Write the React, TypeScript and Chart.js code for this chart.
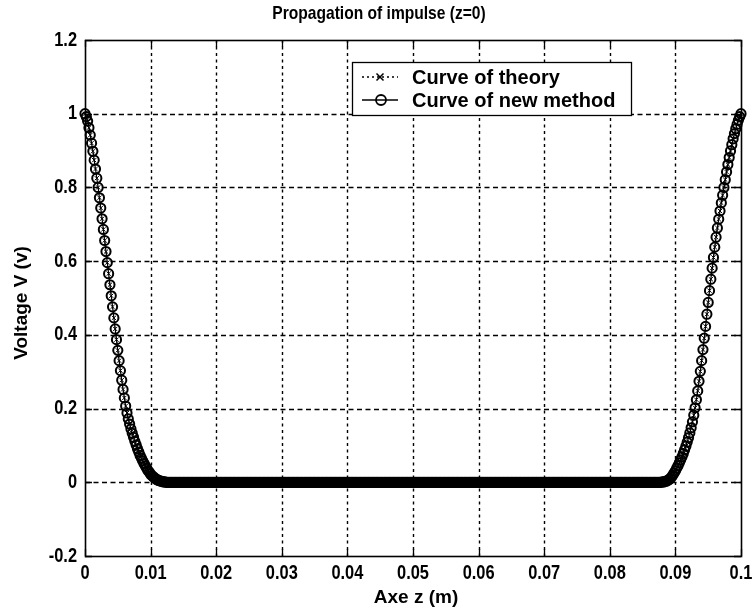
import { useEffect, useRef } from "react";
import { Chart, registerables } from "chart.js";

Chart.register(...registerables);

// Sampling step of the z grid (m)
const Z_STEP = 0.0002;

// Leading front of the pulse, z = 0 ... 0.0122 m
const leftFront = [
  1.000, 0.992, 0.980, 0.962, 0.942, 0.920, 0.898, 0.874, 0.850, 0.825,
  0.800, 0.772, 0.744, 0.715, 0.686, 0.656, 0.626, 0.596, 0.566, 0.536,
  0.506, 0.476, 0.446, 0.416, 0.387, 0.358, 0.330, 0.303, 0.277, 0.252,
  0.229, 0.207, 0.188, 0.172, 0.158, 0.145, 0.133, 0.122, 0.111, 0.101,
  0.091, 0.082, 0.073, 0.065, 0.058, 0.051, 0.044, 0.038, 0.032, 0.027,
  0.022, 0.018, 0.015, 0.012, 0.009, 0.007, 0.005, 0.004, 0.003, 0.002,
  0.001, 0.001,
];

// Quiet region between the two fronts, z = 0.0124 ... 0.0876 m
const plateau = [
  0, 0, 0, 0, 0, 0, 0, 0, 0, 0, 0, 0, 0, 0, 0, 0, 0, 0, 0, 0, 0, 0, 0, 0, 0, 0, 0, 0, 0,
  0, 0, 0, 0, 0, 0, 0, 0, 0, 0, 0, 0, 0, 0, 0, 0, 0, 0, 0, 0, 0, 0, 0, 0, 0, 0, 0, 0, 0,
  0, 0, 0, 0, 0, 0, 0, 0, 0, 0, 0, 0, 0, 0, 0, 0, 0, 0, 0, 0, 0, 0, 0, 0, 0, 0, 0, 0, 0,
  0, 0, 0, 0, 0, 0, 0, 0, 0, 0, 0, 0, 0, 0, 0, 0, 0, 0, 0, 0, 0, 0, 0, 0, 0, 0, 0, 0, 0,
  0, 0, 0, 0, 0, 0, 0, 0, 0, 0, 0, 0, 0, 0, 0, 0, 0, 0, 0, 0, 0, 0, 0, 0, 0, 0, 0, 0, 0,
  0, 0, 0, 0, 0, 0, 0, 0, 0, 0, 0, 0, 0, 0, 0, 0, 0, 0, 0, 0, 0, 0, 0, 0, 0, 0, 0, 0, 0,
  0, 0, 0, 0, 0, 0, 0, 0, 0, 0, 0, 0, 0, 0, 0, 0, 0, 0, 0, 0, 0, 0, 0, 0, 0, 0, 0, 0, 0,
  0, 0, 0, 0, 0, 0, 0, 0, 0, 0, 0, 0, 0, 0, 0, 0, 0, 0, 0, 0, 0, 0, 0, 0, 0, 0, 0, 0, 0,
  0, 0, 0, 0, 0, 0, 0, 0, 0, 0, 0, 0, 0, 0, 0, 0, 0, 0, 0, 0, 0, 0, 0, 0, 0, 0, 0, 0, 0,
  0, 0, 0, 0, 0, 0, 0, 0, 0, 0, 0, 0, 0, 0, 0, 0, 0, 0, 0, 0, 0, 0, 0, 0, 0, 0, 0, 0, 0,
  0, 0, 0, 0, 0, 0, 0, 0, 0, 0, 0, 0, 0, 0, 0, 0, 0, 0, 0, 0, 0, 0, 0, 0, 0, 0, 0, 0, 0,
  0, 0, 0, 0, 0, 0, 0, 0, 0, 0, 0, 0, 0, 0, 0, 0, 0, 0, 0, 0, 0, 0, 0, 0, 0, 0, 0, 0, 0,
  0, 0, 0, 0, 0, 0, 0, 0, 0, 0, 0, 0, 0, 0, 0, 0, 0, 0, 0, 0, 0, 0, 0, 0, 0, 0, 0, 0, 0,
];

// Trailing front of the pulse, z = 0.0878 ... 0.1 m
const rightFront = [
  0.000, 0.001, 0.001, 0.002, 0.003, 0.005, 0.007, 0.010, 0.014, 0.019,
  0.025, 0.031, 0.038, 0.045, 0.053, 0.061, 0.069, 0.078, 0.088, 0.098,
  0.109, 0.121, 0.134, 0.148, 0.164, 0.182, 0.202, 0.224, 0.248, 0.274,
  0.301, 0.330, 0.360, 0.391, 0.423, 0.456, 0.488, 0.520, 0.551, 0.581,
  0.610, 0.638, 0.665, 0.690, 0.714, 0.736, 0.758, 0.779, 0.800, 0.821,
  0.842, 0.862, 0.881, 0.899, 0.916, 0.932, 0.946, 0.959, 0.971, 0.982,
  0.992, 1.000,
];

const theoryV = [...leftFront, ...plateau, ...rightFront];
const newMethodV = [...leftFront, ...plateau, ...rightFront];
const zValues = newMethodV.map((_, i) => i * Z_STEP);

const xTicks = [0, 0.01, 0.02, 0.03, 0.04, 0.05, 0.06, 0.07, 0.08, 0.09, 0.1];
const xTickLabels = ["0", "0.01", "0.02", "0.03", "0.04", "0.05", "0.06", "0.07", "0.08", "0.09", "0.1"];
const yTicks = [-0.2, 0, 0.2, 0.4, 0.6, 0.8, 1, 1.2];
const yTickLabels = ["-0.2", "0", "0.2", "0.4", "0.6", "0.8", "1", "1.2"];

const seriesNames = ["Curve of theory", "Curve of new method"];
const chartTitle = "Propagation of impulse (z=0)";
const xTitle = "Axe z (m)";
const yTitle = "Voltage V (v)";

const SANS = '"Liberation Sans", Arial, sans-serif';
// horizontal squeeze giving the condensed Helvetica look of the labels
const SQUEEZE = 0.82;

function drawCondensed(
  ctx: CanvasRenderingContext2D,
  text: string,
  x: number,
  y: number,
  size: number,
  align: CanvasTextAlign,
) {
  ctx.save();
  ctx.font = `bold ${size}px ${SANS}`;
  ctx.textAlign = align;
  ctx.textBaseline = "middle";
  ctx.translate(x, y);
  ctx.scale(SQUEEZE, 1);
  ctx.fillText(text, 0, 0);
  ctx.restore();
}

function drawCross(ctx: CanvasRenderingContext2D, x: number, y: number, r: number) {
  ctx.beginPath();
  ctx.moveTo(x - r, y - r);
  ctx.lineTo(x + r, y + r);
  ctx.moveTo(x - r, y + r);
  ctx.lineTo(x + r, y - r);
  ctx.stroke();
}

const framePlugin = {
  id: "matlabFrame",
  beforeDatasetsDraw(chart: any) {
    const { ctx, chartArea: a, scales } = chart;
    const x = scales.x;
    const y = scales.y;
    ctx.save();
    ctx.strokeStyle = "#000";
    // horizontal grid lines
    ctx.lineWidth = 1.7;
    ctx.setLineDash([5, 3.5]);
    for (const v of yTicks.slice(1, -1)) {
      const py = Math.round(y.getPixelForValue(v)) + 0.5;
      ctx.beginPath();
      ctx.moveTo(a.left, py);
      ctx.lineTo(a.right, py);
      ctx.stroke();
    }
    // vertical grid lines
    ctx.lineWidth = 1.4;
    ctx.setLineDash([3, 3.5]);
    for (const v of xTicks.slice(1, -1)) {
      const px = Math.round(x.getPixelForValue(v)) + 0.5;
      ctx.beginPath();
      ctx.moveTo(px, a.top);
      ctx.lineTo(px, a.bottom);
      ctx.stroke();
    }
    ctx.restore();
  },
  afterDatasetsDraw(chart: any) {
    const { ctx, chartArea: a, scales } = chart;
    const x = scales.x;
    const y = scales.y;
    ctx.save();
    ctx.strokeStyle = "#000";
    ctx.setLineDash([]);
    // axes box
    ctx.lineWidth = 1.6;
    ctx.strokeRect(Math.round(a.left) + 0.5, Math.round(a.top) + 0.5, Math.round(a.right - a.left), Math.round(a.bottom - a.top));
    // inward tick marks on all four sides
    ctx.lineWidth = 1.3;
    const tl = 7;
    for (const v of xTicks) {
      const px = Math.round(x.getPixelForValue(v)) + 0.5;
      ctx.beginPath();
      ctx.moveTo(px, a.bottom);
      ctx.lineTo(px, a.bottom - tl);
      ctx.moveTo(px, a.top);
      ctx.lineTo(px, a.top + tl);
      ctx.stroke();
    }
    for (const v of yTicks) {
      const py = Math.round(y.getPixelForValue(v)) + 0.5;
      ctx.beginPath();
      ctx.moveTo(a.left, py);
      ctx.lineTo(a.left + tl, py);
      ctx.moveTo(a.right, py);
      ctx.lineTo(a.right - tl, py);
      ctx.stroke();
    }

    // legend box
    const lx = 352, ly = 62, lw = 279, lh = 53;
    ctx.fillStyle = "#fff";
    ctx.fillRect(lx, ly, lw, lh);
    ctx.lineWidth = 1.3;
    ctx.strokeRect(lx + 0.5, ly + 0.5, lw, lh);
    const r1 = 77, r2 = 100;
    // theory sample: dotted line with x marker
    ctx.lineWidth = 1.5;
    ctx.setLineDash([2, 3]);
    ctx.beginPath();
    ctx.moveTo(362, r1);
    ctx.lineTo(398, r1);
    ctx.stroke();
    ctx.setLineDash([]);
    drawCross(ctx, 380, r1, 3.5);
    // new method sample: solid line with open circle
    ctx.beginPath();
    ctx.moveTo(362, r2);
    ctx.lineTo(398, r2);
    ctx.stroke();
    ctx.lineWidth = 1.8;
    ctx.beginPath();
    ctx.arc(381, r2, 5, 0, Math.PI * 2);
    ctx.stroke();
    ctx.fillStyle = "#000";
    ctx.font = `bold 20px ${SANS}`;
    ctx.textAlign = "left";
    ctx.textBaseline = "middle";
    ctx.fillText(seriesNames[0], 412, r1 + 1);
    ctx.fillText(seriesNames[1], 412, r2 + 1);
    ctx.restore();
  },
  afterDraw(chart: any) {
    const { ctx, chartArea: a, scales } = chart;
    const x = scales.x;
    const y = scales.y;
    ctx.save();
    ctx.fillStyle = "#000";
    // tick labels
    xTicks.forEach((v, i) => {
      drawCondensed(ctx, xTickLabels[i], x.getPixelForValue(v), a.bottom + 17, 20, "center");
    });
    yTicks.forEach((v, i) => {
      drawCondensed(ctx, yTickLabels[i], a.left - 8, y.getPixelForValue(v), 20, "right");
    });
    // titles
    drawCondensed(ctx, chartTitle, 379, 14, 19, "center");
    ctx.font = `bold 19px ${SANS}`;
    ctx.textAlign = "center";
    ctx.textBaseline = "middle";
    ctx.fillText(xTitle, (a.left + a.right) / 2 + 3, 598);
    ctx.translate(22, (a.top + a.bottom) / 2 + 5);
    ctx.rotate(-Math.PI / 2);
    ctx.fillText(yTitle, 0, 0);
    ctx.restore();
  },
};

export default function App() {
  const canvasRef = useRef<HTMLCanvasElement | null>(null);

  useEffect(() => {
    const canvas = canvasRef.current;
    if (!canvas) return;
    const chart = new Chart(canvas, {
      type: "scatter",
      data: {
        datasets: [
          {
            label: seriesNames[0],
            data: zValues.map((z, i) => ({ x: z, y: theoryV[i] })),
            showLine: true,
            borderColor: "#000",
            borderWidth: 1,
            borderDash: [2, 3],
            pointStyle: "crossRot",
            pointRadius: 3,
            pointBorderWidth: 1,
            pointBorderColor: "#000",
            pointBackgroundColor: "rgba(0,0,0,0)",
            order: 2,
            clip: false,
          },
          {
            label: seriesNames[1],
            data: zValues.map((z, i) => ({ x: z, y: newMethodV[i] })),
            showLine: true,
            borderColor: "#000",
            borderWidth: 1.2,
            pointStyle: "circle",
            pointRadius: 4.6,
            pointBorderWidth: 2,
            pointBorderColor: "#000",
            pointBackgroundColor: "rgba(0,0,0,0)",
            order: 1,
            clip: false,
          },
        ],
      },
      options: {
        animation: false,
        responsive: false,
        events: [],
        layout: { padding: { left: 0, right: 15, top: 40, bottom: 0 } },
        plugins: {
          legend: { display: false },
          title: { display: false },
          tooltip: { enabled: false },
        },
        scales: {
          x: {
            type: "linear",
            min: 0,
            max: 0.1,
            grid: { display: false, drawTicks: false },
            border: { display: false },
            afterBuildTicks: (s: any) => {
              s.ticks = xTicks.map((v) => ({ value: v }));
            },
            afterFit: (s: any) => {
              s.height = 53;
            },
            ticks: { display: false },
          },
          y: {
            type: "linear",
            min: -0.2,
            max: 1.2,
            grid: { display: false, drawTicks: false },
            border: { display: false },
            afterBuildTicks: (s: any) => {
              s.ticks = yTicks.map((v) => ({ value: v }));
            },
            afterFit: (s: any) => {
              s.width = 85;
            },
            ticks: { display: false },
          },
        },
      },
      plugins: [framePlugin],
    });
    return () => chart.destroy();
  }, []);

  return (
    <div style={{ position: "absolute", left: 0, top: 0, width: 756, height: 609, background: "#fff" }}>
      <canvas ref={canvasRef} width={756} height={609} style={{ display: "block", width: 756, height: 609 }} />
    </div>
  );
}
